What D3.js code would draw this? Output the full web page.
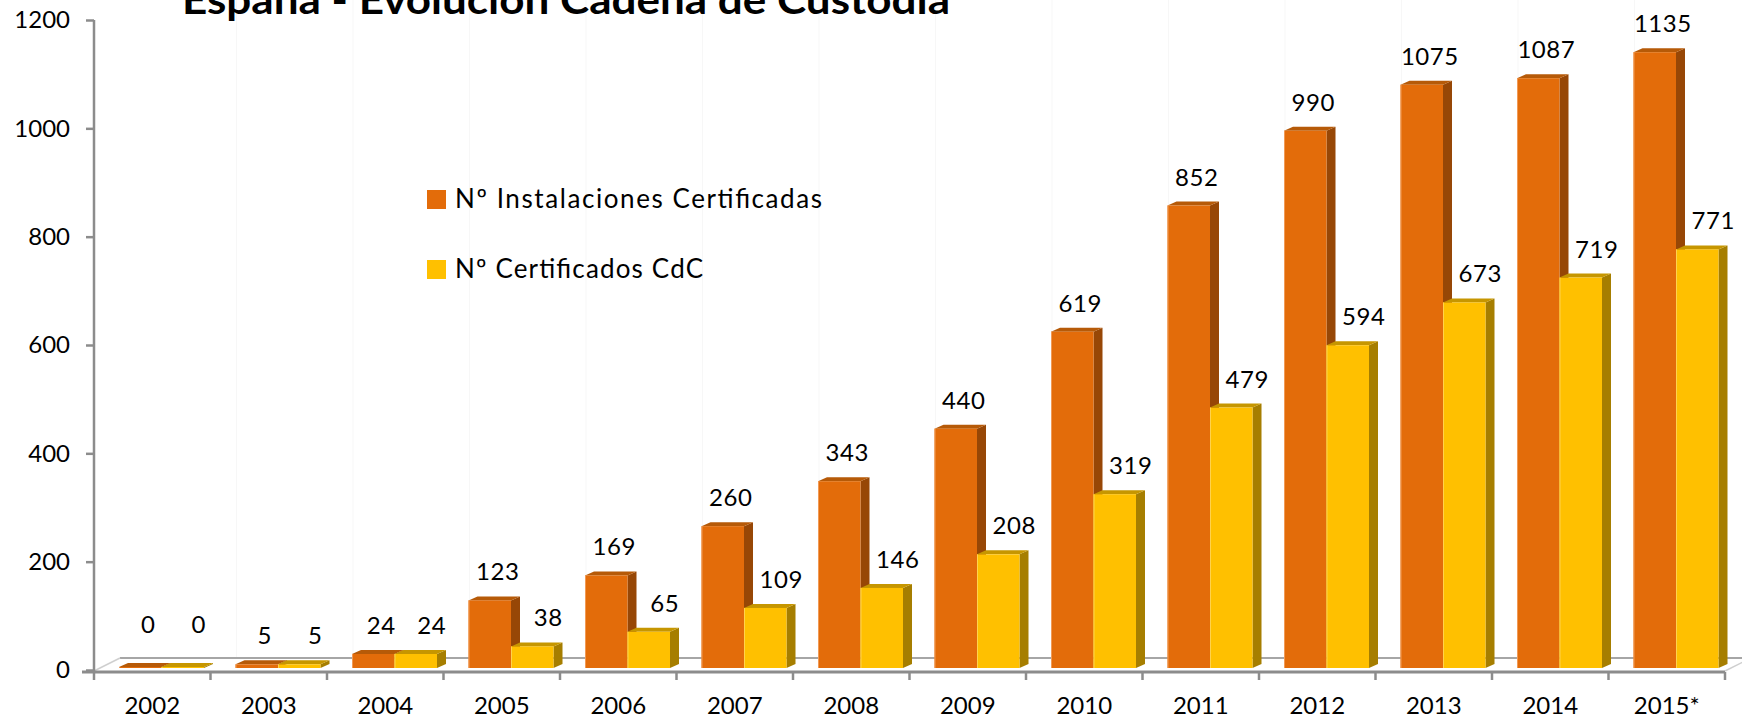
<!DOCTYPE html>
<html lang="es">
<head>
<meta charset="utf-8">
<style type="text/css">
body {
	margin: 0;
	background: #fff;
}
text {
	font-family: Lato, "Open Sans", sans-serif;
	fill: #000;
}
.axis-line {
	stroke: #8c8c8c;
	fill: none;
}
</style>
</head>
<body>
	<svg width="1742" height="718"></svg>

	<script src="https://cdn.jsdelivr.net/npm/d3@7/dist/d3.min.js" type="text/javascript"></script>

	<script type="text/javascript">
    // datos
    var years = ["2002", "2003", "2004", "2005", "2006", "2007", "2008", "2009", "2010", "2011", "2012", "2013", "2014", "2015*"];
    var instalaciones = [0, 5, 24, 123, 169, 260, 343, 440, 619, 852, 990, 1075, 1087, 1135];
    var certificados = [0, 5, 24, 38, 65, 109, 146, 208, 319, 479, 594, 673, 719, 771];
    var seriesNames = ["Nº Instalaciones Certificadas", "Nº Certificados CdC"];
    var yTicks = [0, 200, 400, 600, 800, 1000, 1200];
    var title = "España - Evolución Cadena de Custodia";

    var colors = [
        {front: "#e36c0a", side: "#974706", top: "#b65a08", edge: "#f29a55"},
        {front: "#ffc000", side: "#a67e00", top: "#c69600", edge: "#ffd24d"}
    ];

    var svg = d3.select("svg"),
        width = +svg.attr("width"),
        height = +svg.attr("height");

    // profundidad 3D de las barras y del suelo
    var depthX = 9, depthY = -4;
    var floorX = 26, floorY = -12;

    var x = d3.scaleBand()
        .domain(years)
        .range([94, 1725]);

    var xSeries = d3.scaleBand()
        .domain([0, 1])
        .range([25, 110]);

    var y = d3.scaleLinear()
        .domain([0, 1200])
        .range([670, 20]);

    var rows = years.map(function (yr, i) {
        return {year: yr, values: [instalaciones[i], certificados[i]]};
    });

    // lineas verticales tenues de la pared del fondo
    svg.append("g")
        .selectAll("line")
        .data(years.slice(1))
        .enter()
        .append("line")
        .attr("x1", function (d) {return x(d) + floorX;})
        .attr("x2", function (d) {return x(d) + floorX;})
        .attr("y1", 0)
        .attr("y2", y(0) + floorY)
        .style("stroke", "#f7f7f7")
        .style("stroke-width", 1);

    // suelo: borde del fondo y laterales
    svg.append("line")
        .attr("class", "axis-line")
        .attr("x1", x.range()[0] + floorX)
        .attr("x2", x.range()[1] + floorX)
        .attr("y1", y(0) + floorY)
        .attr("y2", y(0) + floorY)
        .style("stroke", "#a6a6a6")
        .style("stroke-width", 2);

    [x.range()[0], x.range()[1]].forEach(function (px) {
        svg.append("line")
            .attr("x1", px)
            .attr("y1", y(0) + 1)
            .attr("x2", px + floorX)
            .attr("y2", y(0) + floorY)
            .style("stroke", "#cfcfcf")
            .style("stroke-width", 1.5);
    });

    // barras 3D
    var groups = svg.append("g")
        .selectAll("g")
        .data(rows)
        .enter()
        .append("g")
        .attr("transform", function (d) {return "translate(" + x(d.year) + ",0)";});

    var bars = groups.selectAll("g")
        .data(function (d) {
            return d.values.map(function (v, s) {return {value: v, s: s};});
        })
        .enter()
        .append("g");

    function barBox(d) {
        var x0 = xSeries(d.s),
            x1 = x0 + xSeries.bandwidth(),
            top = Math.min(y(d.value) - 3, y(0) - 3),
            bottom = y(0) - 2;
        return {x0: x0, x1: x1, top: top, bottom: bottom};
    }

    bars.append("path")
        .attr("d", function (d) {
            var b = barBox(d);
            return "M" + b.x1 + "," + b.top +
                "L" + (b.x1 + depthX) + "," + (b.top + depthY) +
                "L" + (b.x1 + depthX) + "," + (b.bottom + depthY) +
                "L" + b.x1 + "," + b.bottom + "Z";
        })
        .style("fill", function (d) {return colors[d.s].side;});

    bars.append("path")
        .attr("d", function (d) {
            var b = barBox(d);
            return "M" + b.x0 + "," + b.top +
                "L" + (b.x0 + depthX) + "," + (b.top + depthY) +
                "L" + (b.x1 + depthX) + "," + (b.top + depthY) +
                "L" + b.x1 + "," + b.top + "Z";
        })
        .style("fill", function (d) {return colors[d.s].top;});

    bars.append("rect")
        .attr("x", function (d) {return barBox(d).x0;})
        .attr("y", function (d) {return barBox(d).top;})
        .attr("width", xSeries.bandwidth())
        .attr("height", function (d) {var b = barBox(d); return b.bottom - b.top;})
        .style("fill", function (d) {return colors[d.s].front;});

    bars.append("line")
        .attr("x1", function (d) {return barBox(d).x0 + 0.5;})
        .attr("x2", function (d) {return barBox(d).x0 + 0.5;})
        .attr("y1", function (d) {return barBox(d).top;})
        .attr("y2", function (d) {return barBox(d).bottom;})
        .style("stroke", function (d) {return colors[d.s].edge;})
        .style("stroke-width", 1);

    // etiquetas de datos
    var labelShift = [8, 16];
    groups.selectAll("text")
        .data(function (d) {
            return d.values.map(function (v, s) {return {value: v, s: s};});
        })
        .enter()
        .append("text")
        .attr("x", function (d) {return xSeries(d.s) + xSeries.bandwidth() / 2 + labelShift[d.s];})
        .attr("y", function (d) {return barBox(d).top - (d.value === 0 ? 34 : 20);})
        .attr("text-anchor", "middle")
        .style("font-size", "24px")
        .style("letter-spacing", "0.5px")
        .text(function (d) {return d.value;});

    // ejes
    svg.append("line")
        .attr("class", "axis-line")
        .attr("x1", x.range()[0])
        .attr("x2", x.range()[0])
        .attr("y1", y(1200))
        .attr("y2", y(0) + 2)
        .style("stroke-width", 2.5);

    var yAxis = svg.append("g")
        .attr("transform", "translate(" + x.range()[0] + ",0)")
        .call(d3.axisLeft(y).tickValues(yTicks).tickSize(8).tickPadding(16).tickFormat(d3.format("d")));
    yAxis.select(".domain").remove();
    yAxis.selectAll(".tick line").style("stroke", "#8c8c8c").style("stroke-width", 2.5);
    yAxis.selectAll(".tick text")
        .style("font-family", "Lato, 'Open Sans', sans-serif")
        .style("font-size", "24px")
        .style("fill", "#000");

    var xAxisY = y(0) + 2;
    svg.append("line")
        .attr("class", "axis-line")
        .attr("x1", x.range()[0] - 12)
        .attr("x2", x.range()[1])
        .attr("y1", xAxisY)
        .attr("y2", xAxisY)
        .style("stroke-width", 3);

    svg.append("g")
        .selectAll("line")
        .data(years.concat(["end"]))
        .enter()
        .append("line")
        .attr("x1", function (d, i) {return x.range()[0] + i * x.step();})
        .attr("x2", function (d, i) {return x.range()[0] + i * x.step();})
        .attr("y1", xAxisY)
        .attr("y2", xAxisY + 8)
        .style("stroke", "#8c8c8c")
        .style("stroke-width", 2.5);

    svg.append("g")
        .selectAll("text")
        .data(years)
        .enter()
        .append("text")
        .attr("x", function (d) {return x(d) + x.bandwidth() / 2;})
        .attr("y", 714)
        .attr("text-anchor", "middle")
        .style("font-size", "24px")
        .text(function (d) {return d;});

    // leyenda
    var legendWidths = [367, 248];
    var legend = svg.append("g")
        .selectAll("g")
        .data(seriesNames)
        .enter()
        .append("g")
        .attr("transform", function (d, i) {return "translate(427," + (190 + i * 70) + ")";});

    legend.append("rect")
        .attr("width", 19)
        .attr("height", 19)
        .style("fill", function (d, i) {return colors[i].front;});

    legend.append("text")
        .attr("x", 28)
        .attr("y", 18)
        .attr("textLength", function (d, i) {return legendWidths[i];})
        .attr("lengthAdjust", "spacing")
        .style("font-size", "26px")
        .text(function (d) {return d;});

    // titulo (cortado arriba, como en el original)
    svg.append("text")
        .attr("x", 182)
        .attr("y", 14)
        .attr("textLength", 768)
        .attr("lengthAdjust", "spacingAndGlyphs")
        .style("font-size", "40px")
        .style("font-weight", "bold")
        .text(title);
	</script>
</body>
</html>
